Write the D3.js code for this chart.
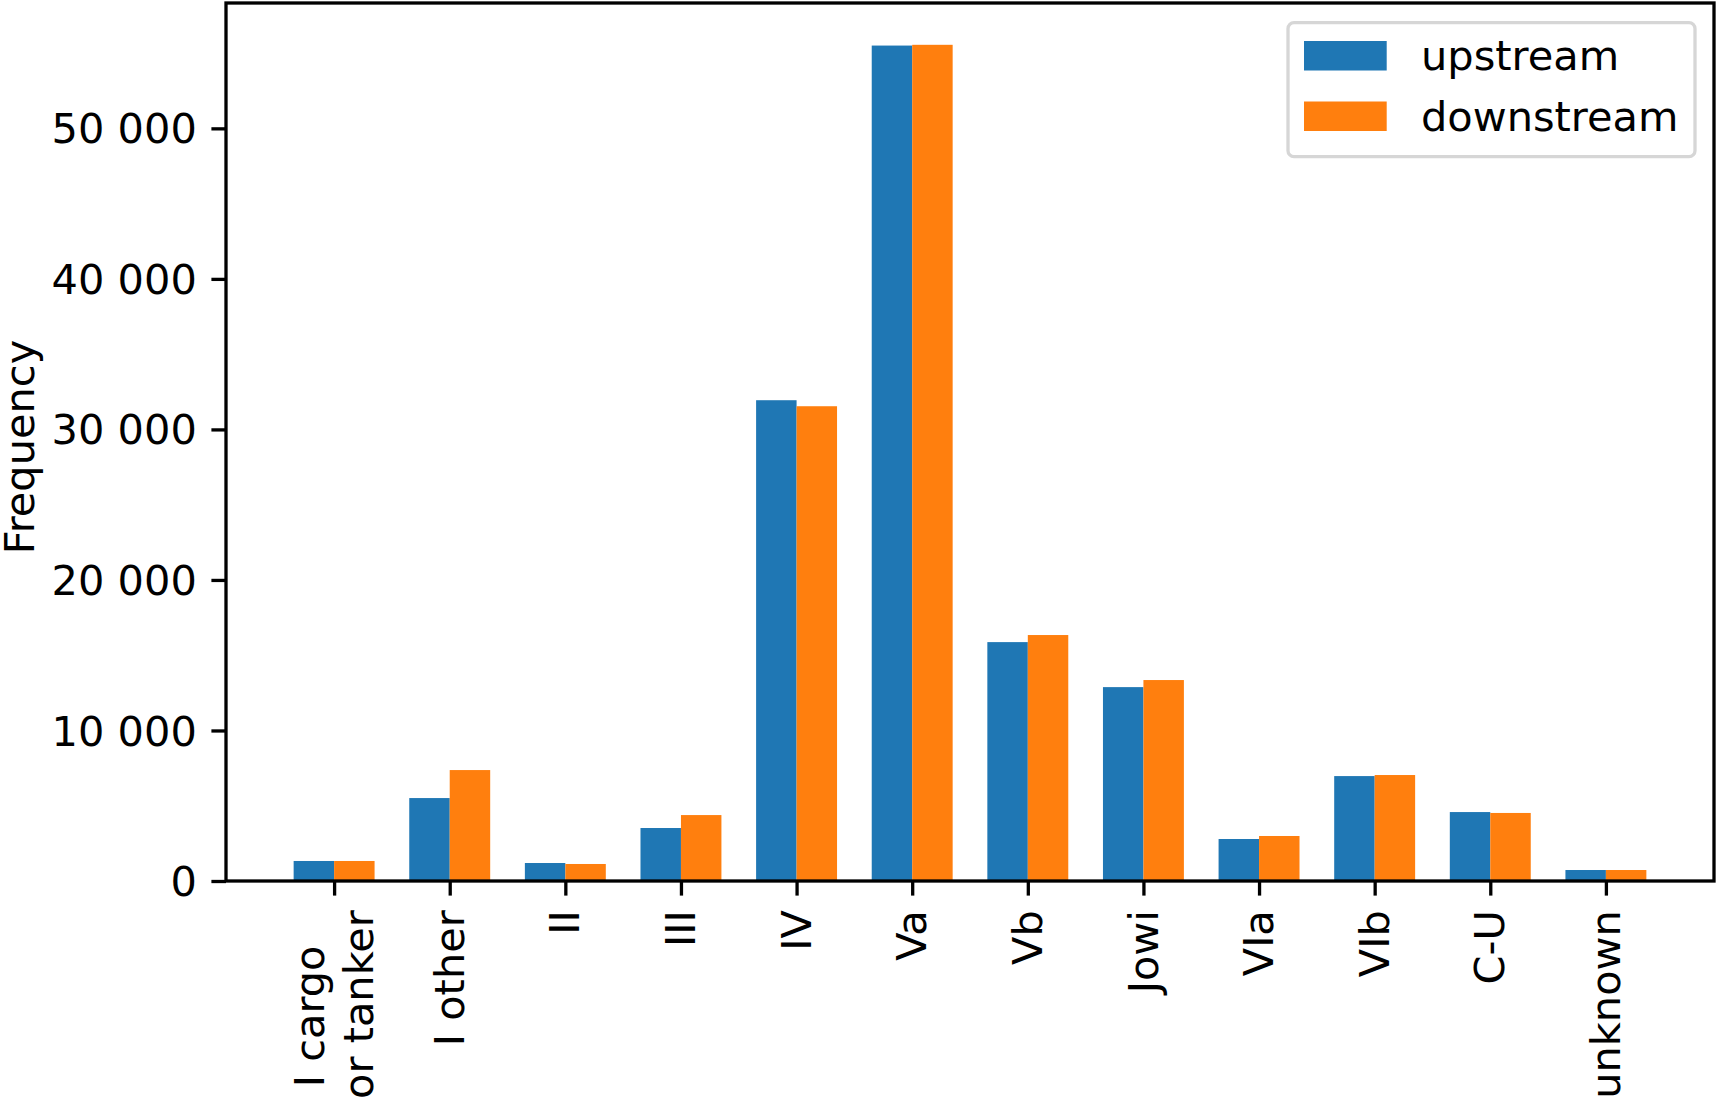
<!DOCTYPE html>
<html>
<head>
<meta charset="utf-8">
<script src="https://cdn.jsdelivr.net/npm/d3@7"></script>
<style>
  html, body { margin: 0; padding: 0; background: #fff; }
  svg { display: block; font-family: "DejaVu Sans", sans-serif; }
</style>
</head>
<body>
<svg id="chart" width="1719" height="1101"></svg>
<script>
// ---- data ----
const categories = ["I cargo\nor tanker", "I other", "II", "III", "IV", "Va", "Vb", "Jowi", "VIa", "VIb", "C-U", "unknown"];
const upstream   = [1330, 5510, 1195, 3520, 31940, 55500, 15870, 12880, 2790, 6970, 4580, 730];
const downstream = [1330, 7370, 1130, 4380, 31540, 55550, 16340, 13350, 2990, 7040, 4520, 730];
const seriesNames = ["upstream", "downstream"];
const seriesColors = ["#1f77b4", "#ff7f0e"];
const yTicks = [0, 10000, 20000, 30000, 40000, 50000];
const yLabel = "Frequency";

(function () {
// ---- layout ----
const pLeft = 226, pRight = 1714, pTop = 3, pBottom = 881;
const fs = 41.5;
const lw = 3.3, tickLen = 14.6, tickPad = 14.6;
const barW = 0.35;

const svg = d3.select("#chart");

const n = categories.length;
const xMin = -barW, xMax = (n - 1) + barW;
const xm = 0.05 * (xMax - xMin);
const x = d3.scaleLinear().domain([xMin - xm, xMax + xm]).range([pLeft, pRight]);
const yMaxVal = d3.max([...upstream, ...downstream]);
const y = d3.scaleLinear().domain([0, yMaxVal * 1.05]).range([pBottom, pTop]);

const series = [upstream, downstream];
// bars
series.forEach((vals, s) => {
  svg.append("g").selectAll("rect").data(vals).join("rect")
    .attr("x", (d, i) => x(i + (s === 0 ? -barW : 0)))
    .attr("width", (d, i) => x(i + barW) - x(i))
    .attr("y", d => y(d))
    .attr("height", d => y(0) - y(d))
    .attr("fill", seriesColors[s]);
});

// y axis
const loc = d3.formatLocale({decimal: ".", thousands: " ", grouping: [3], currency: ["", ""]});
const fmt = loc.format(",d");
const yAxis = d3.axisLeft(y).tickValues(yTicks).tickFormat(fmt).tickSize(tickLen).tickPadding(tickPad);
const gy = svg.append("g").attr("transform", `translate(${pLeft},0)`).call(yAxis);
gy.select(".domain").remove();
gy.selectAll(".tick line").attr("stroke", "#000").attr("stroke-width", lw);
gy.selectAll(".tick text").attr("font-size", fs).attr("font-family", "DejaVu Sans").attr("fill", "#000").attr("dy", "0.35em");

// x axis ticks
const xAxis = d3.axisBottom(x).tickValues(d3.range(n)).tickFormat("").tickSize(tickLen);
const gx = svg.append("g").attr("transform", `translate(0,${pBottom})`).call(xAxis);
gx.select(".domain").remove();
gx.selectAll(".tick line").attr("stroke", "#000").attr("stroke-width", lw);
gx.selectAll(".tick text").remove();

// x labels (rotated, multi-line)
const lineH = 49;
const alignFrac = 0.75;
categories.forEach((c, i) => {
  const lines = c.split("\n");
  const g = svg.append("g")
    .attr("transform", `translate(${x(i)},${pBottom + tickLen + tickPad}) rotate(-90)`);
  const texts = lines.map((ln, j) => g.append("text")
    .attr("font-size", fs).attr("fill", "#000")
    .attr("text-anchor", "end")
    .attr("y", (j - (lines.length - 1) / 2) * lineH)
    .attr("dy", "0.34em")
    .text(ln));
  const widths = texts.map(t => t.node().getComputedTextLength());
  const wmax = d3.max(widths);
  texts.forEach((t, j) => t.attr("x", -(wmax - widths[j]) * alignFrac));
});

// frame
svg.append("rect").attr("x", pLeft).attr("y", pTop).attr("width", pRight - pLeft).attr("height", pBottom - pTop)
  .attr("fill", "none").attr("stroke", "#000").attr("stroke-width", lw);

// y label
svg.append("text")
  .attr("transform", `translate(34,${(pTop + pBottom) / 2 + 5}) rotate(-90)`)
  .attr("text-anchor", "middle").attr("font-size", fs).attr("fill", "#000")
  .text(yLabel);

// legend
const lg = svg.append("g");
lg.append("rect").attr("x", 1288).attr("y", 22.7).attr("width", 407).attr("height", 134)
  .attr("rx", 6).attr("fill", "#fff").attr("stroke", "#d6d6d6").attr("stroke-width", lw);
seriesNames.forEach((nm, s) => {
  const yy = 41 + s * 60.5;
  lg.append("rect").attr("x", 1304).attr("y", yy).attr("width", 82.7).attr("height", 29.5).attr("fill", seriesColors[s]);
  lg.append("text").attr("x", 1421).attr("y", yy + 29).attr("font-size", fs).attr("fill", "#000").text(nm);
});
})();
</script>
</body>
</html>
